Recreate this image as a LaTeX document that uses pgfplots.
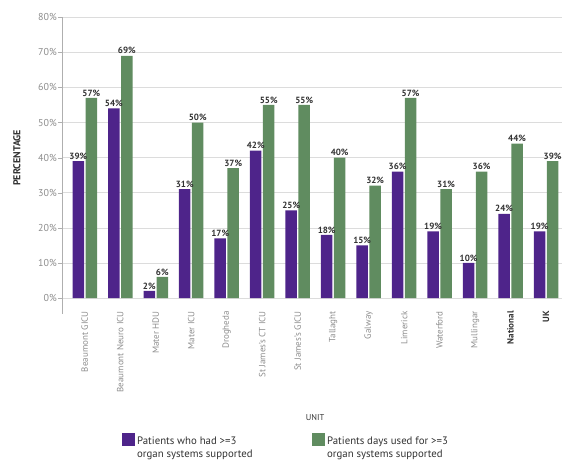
\documentclass[border=0pt]{standalone}
\usepackage{fontspec}
\setmainfont{PT Sans}
\usepackage{pgfplots}
\usepackage{pgfplotstable}
\pgfplotsset{compat=1.18}
\definecolor{purp}{RGB}{78,36,138}
\definecolor{grn}{RGB}{96,140,96}
\definecolor{tickgray}{RGB}{140,140,140}
\definecolor{gridgray}{RGB}{220,220,220}
\definecolor{txt}{RGB}{50,50,50}

% x = unit index, pat = patients with >=3 organ systems, days = patient days
\pgfplotstableread{
x pat days
0 39 57
1 54 69
2 2 6
3 31 50
4 17 37
5 42 55
6 25 55
7 18 40
8 15 32
9 36 57
10 19 31
11 10 36
12 24 44
13 19 39
}\units

\begin{document}
\begin{tikzpicture}
\path (-62pt,-150pt) rectangle (503pt,313.8pt);
\begin{axis}[
  at={(0,0)}, anchor=south west,
  scale only axis, width=500pt, height=296.6pt,
  xmin=-0.643, xmax=13.45, ymin=-4.5, ymax=80,
  axis y line*=left, axis x line*=bottom,
  x axis line style={draw=none},
  y axis line style={draw=tickgray!70},
  xtick={0,...,13}, xtick style={draw=none},
  xticklabels={Beaumont GICU, Beaumont Neuro ICU, Mater HDU, Mater ICU, Drogheda,
    St James's CT ICU, St James's GICU, Tallaght, Galway, Limerick, Waterford,
    Mullingar, {\color{txt}\bfseries National}, {\color{txt}\bfseries UK}},
  xticklabel style={rotate=90, anchor=east, font=\fontsize{9}{10}\selectfont, text=tickgray},
  xticklabel shift=-10pt,
  ytick={0,10,...,80},
  yticklabel={\pgfmathprintnumber{\tick}\%},
  yticklabel style={font=\fontsize{10}{11}\selectfont, text=tickgray, inner sep=1pt},
  /pgf/number format/assume math mode=true,
  ytick style={draw=tickgray!70}, tick align=outside, major tick length=4pt,
  ymajorgrids, grid style={gridgray, line width=0.6pt},
  ybar=1.5pt, bar width=11.5pt,
  legend image code/.code={\fill[#1] (0pt,-5pt) rectangle (13pt,8pt);},
  nodes near coords={\pgfmathprintnumber{\pgfplotspointmeta}\%},
  nodes near coords style={font=\fontsize{9}{10}\selectfont\bfseries, text=txt, inner sep=1.5pt},
  clip=false,
  legend columns=2,
  legend style={at={(axis description cs:0.12,-0.4015)}, anchor=north west, draw=none, fill=none,
    inner sep=0pt, font=\fontsize{10.8}{13}\selectfont, text=txt,
    /tikz/every even column/.append style={column sep=8pt}},
  legend cell align=left,
]
\addplot[fill=purp, draw=none] table[x=x, y=pat] {\units};
\addlegendentry{\parbox[t]{165pt}{Patients who had >=3\\organ systems supported}}
\addplot[fill=grn, draw=none] table[x=x, y=days] {\units};
\addlegendentry{\parbox[t]{170pt}{Patients days used for >=3\\organ systems supported}}
\end{axis}
\node[rotate=90, font=\fontsize{10}{11}\selectfont\bfseries, text=txt] at (-45pt,156pt) {PERCENTAGE};
\node[font=\fontsize{8.5}{9}\selectfont, text=txt] at (253pt,-104pt) {UNIT};
\end{tikzpicture}
\end{document}
